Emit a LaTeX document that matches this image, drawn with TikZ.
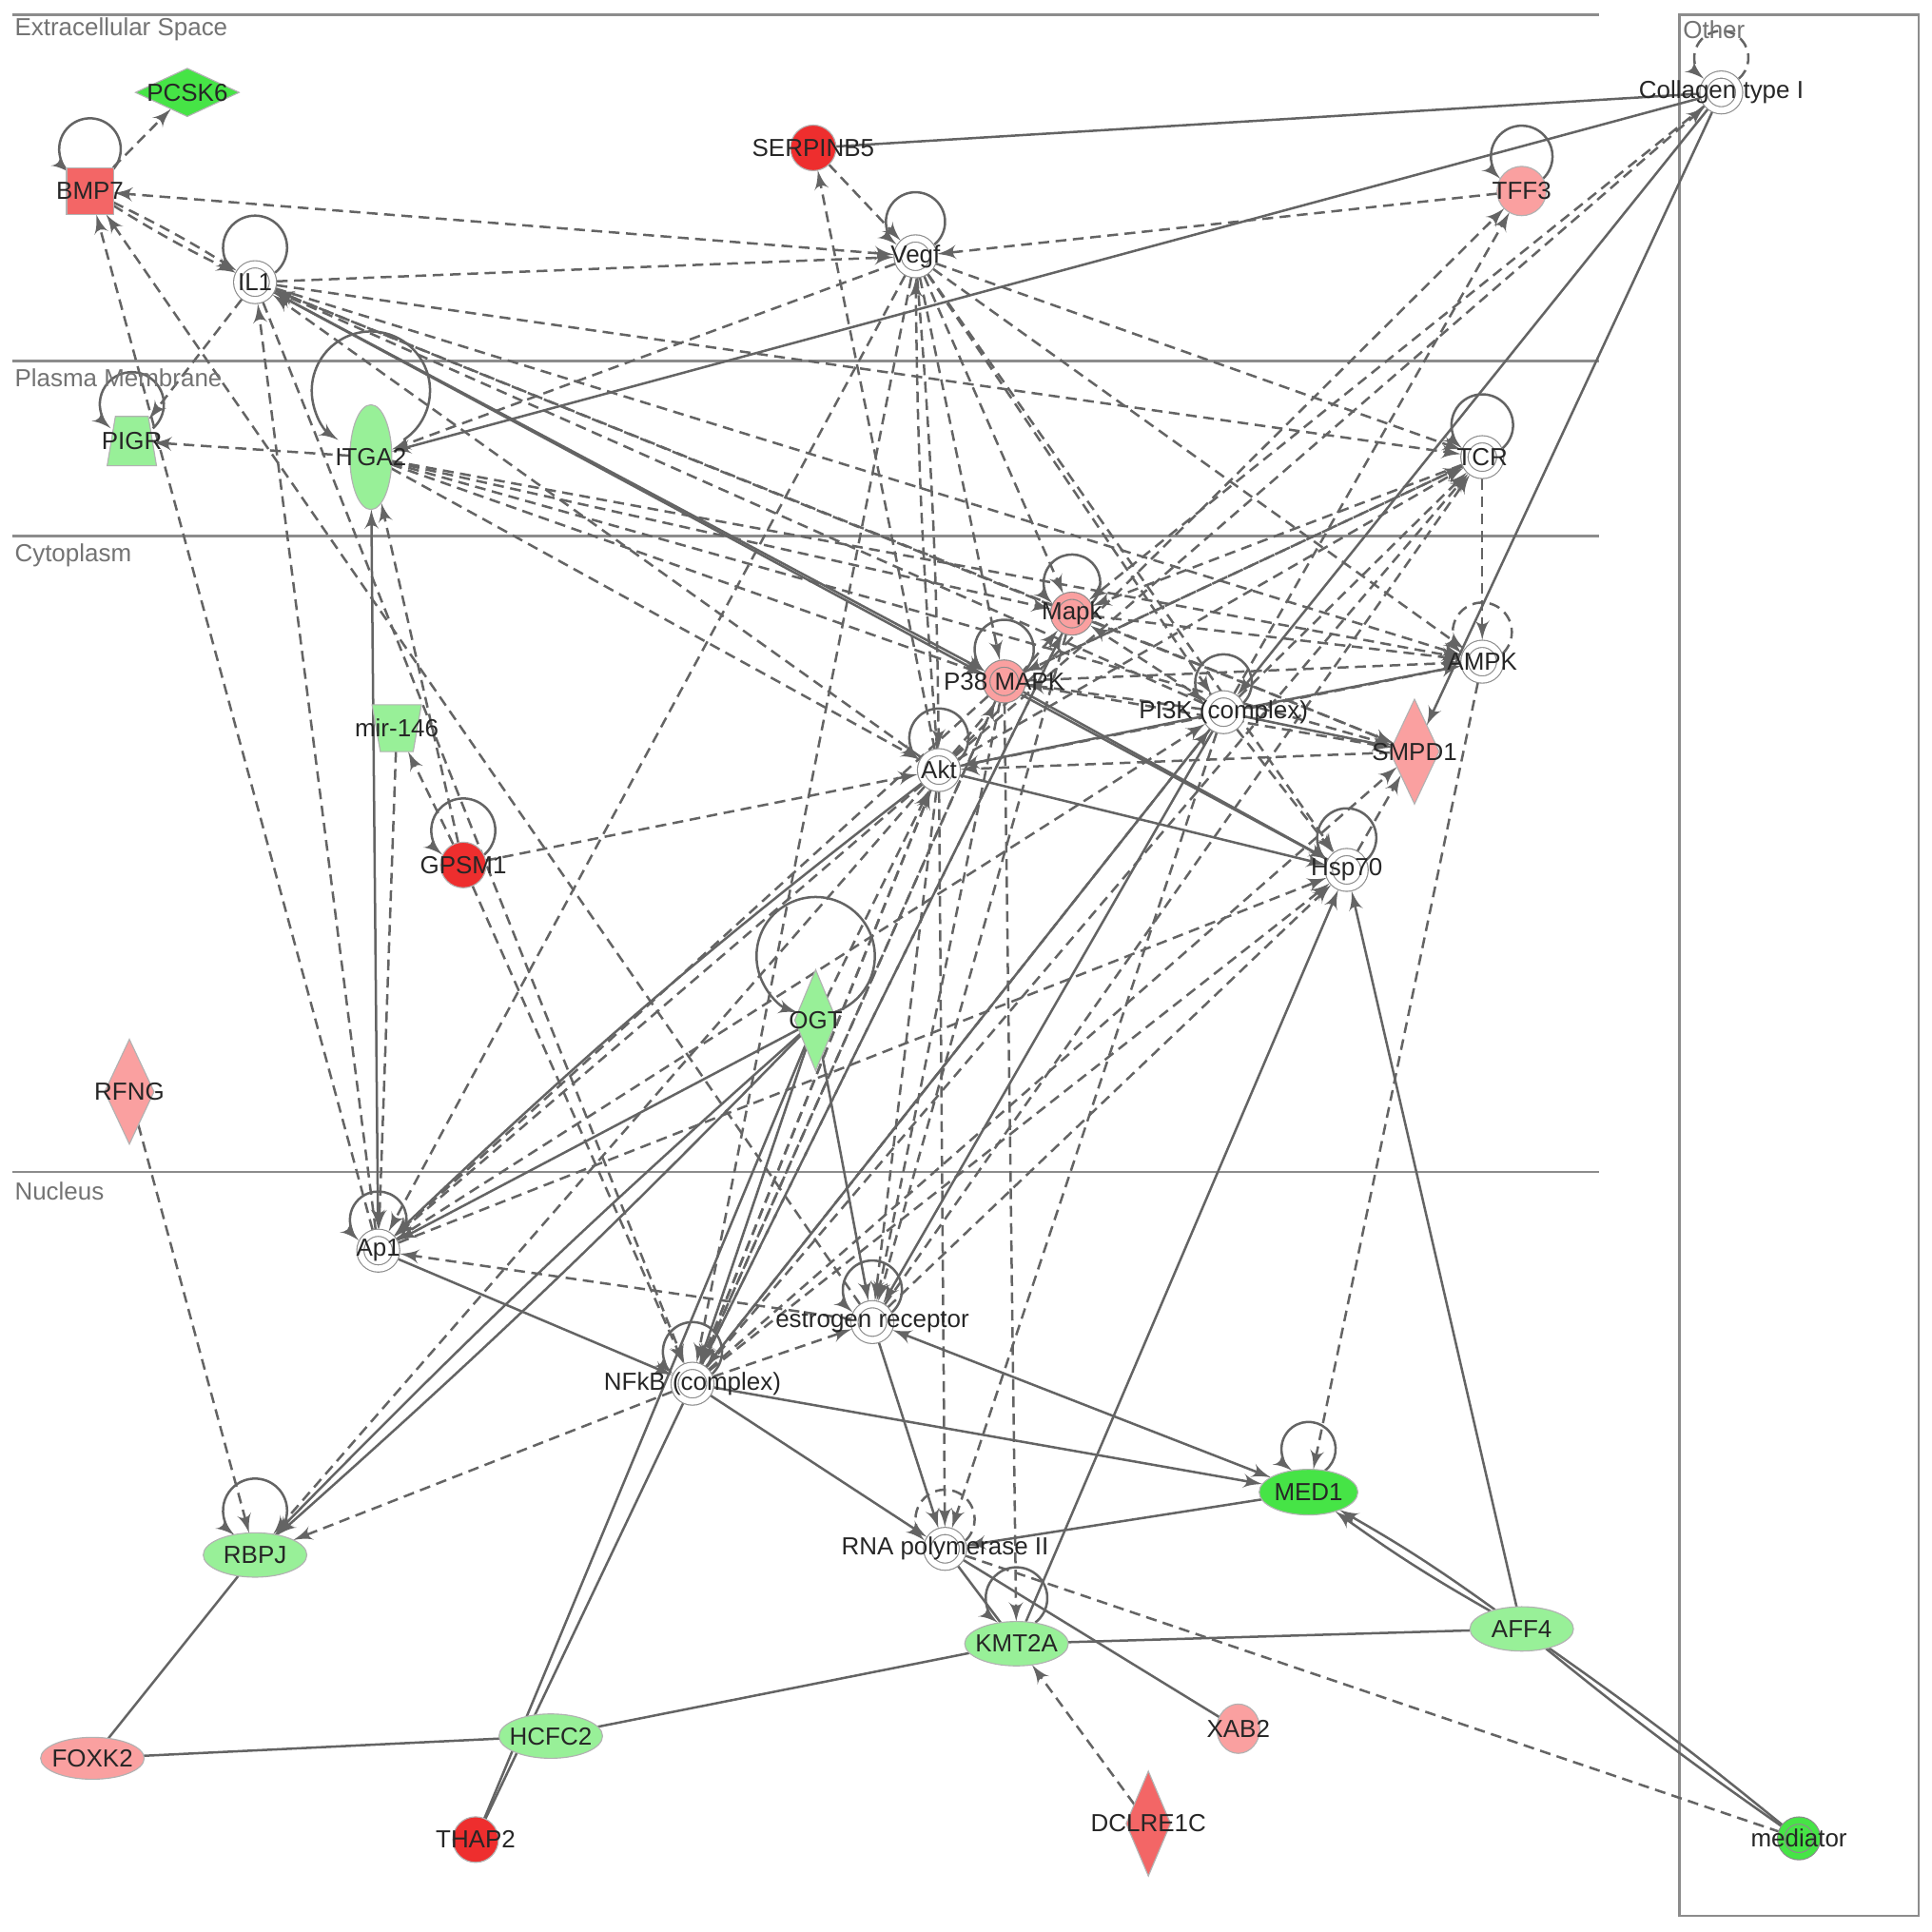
\documentclass[tikz,border=0pt]{standalone}
\usepackage{fontspec}
\setmainfont{Liberation Sans}
\usetikzlibrary{arrows,shapes.geometric,calc,backgrounds}

\definecolor{edgeGray}{RGB}{100,100,100}
\definecolor{redDark}{RGB}{238,46,46}
\definecolor{redMid}{RGB}{243,102,102}
\definecolor{pinkGene}{RGB}{250,160,160}
\definecolor{greenBright}{RGB}{70,228,70}
\definecolor{greenLight}{RGB}{152,240,152}

\begin{document}
\begin{tikzpicture}[x=0.01cm, y=-0.01cm,
    every node/.style={font=\fontsize{5.7}{7}\selectfont, text=black!85, inner sep=0pt, outer sep=0pt},
    geneShape/.style={draw=black!30, line width=0.25pt},
    complexNode/.style={circle, draw=black!45, line width=0.25pt, double=white, double distance=1.4pt, fill=white, minimum size=0.29cm, outer sep=0.9pt},
    pinkComplex/.style={complexNode, fill=pinkGene, double=pinkGene},
    greenComplex/.style={complexNode, fill=greenBright, double=greenBright},
    redDot/.style={geneShape, circle, fill=redDark, minimum size=0.37cm},
    pinkDot/.style={geneShape, circle, fill=pinkGene, minimum size=0.4cm},
    redSquare/.style={geneShape, rectangle, fill=redMid, minimum size=0.38cm},
    greenOval/.style={geneShape, ellipse, fill=greenLight, minimum width=0.84cm, minimum height=0.36cm},
    greenOvalBright/.style={geneShape, ellipse, fill=greenBright, minimum width=0.8cm, minimum height=0.37cm},
    pinkOval/.style={geneShape, ellipse, fill=pinkGene, minimum width=0.84cm, minimum height=0.34cm},
    pinkOvalSmall/.style={geneShape, ellipse, fill=pinkGene, minimum width=0.35cm, minimum height=0.4cm},
    greenTall/.style={geneShape, ellipse, fill=greenLight, minimum width=0.34cm, minimum height=0.85cm},
    pinkDiamond/.style={geneShape, diamond, fill=pinkGene, minimum width=0.4cm, minimum height=0.85cm},
    redDiamond/.style={geneShape, diamond, fill=redMid, minimum width=0.36cm, minimum height=0.85cm},
    greenDiamond/.style={geneShape, diamond, fill=greenLight, minimum width=0.34cm, minimum height=0.82cm},
    greenDiamondWide/.style={geneShape, diamond, fill=greenBright, minimum width=0.84cm, minimum height=0.39cm},
    greenTrap/.style={geneShape, trapezium, trapezium angle=76, trapezium stretches=true, inner sep=0.5pt, fill=greenLight, minimum width=0.4cm, minimum height=0.4cm},
    greenTrapInv/.style={greenTrap, shape border rotate=180, minimum height=0.38cm},
    compLine/.style={draw=black!45, line width=0.5pt},
    compLabel/.style={anchor=west, text=black!55},
    dashArrow/.style={draw=edgeGray, line width=0.55pt, dash pattern=on 2.5pt off 1.5pt, -latex'},
    dashBoth/.style={dashArrow, latex'-latex'},
    dashLine/.style={draw=edgeGray, line width=0.55pt, dash pattern=on 2.5pt off 1.5pt},
    lineArrow/.style={draw=edgeGray, line width=0.55pt, -latex'},
    lineBoth/.style={lineArrow, latex'-latex'},
    plainLine/.style={draw=edgeGray, line width=0.55pt},
    loopLine/.style={lineArrow},
    loopDash/.style={dashArrow}
  ]
  \useasboundingbox (0,0) rectangle (1568,1568);

  % compartments
  \node[compLabel] (lblExtra) at (12,24) {Extracellular Space};
  \node[compLabel] (lblMembrane) at (12,307) {Plasma Membrane};
  \node[compLabel] (lblCyto) at (12,451) {Cytoplasm};
  \node[compLabel] (lblNucleus) at (12,967) {Nucleus};
  \node[compLabel] (lblOther) at (1366,24) {Other};

  % molecules
  \node[greenDiamondWide, label=center:PCSK6] (PCSK6) at (152,75) {};
  \node[redSquare, label=center:BMP7] (BMP7) at (73,155) {};
  \node[redDot, label=center:SERPINB5] (SERPINB5) at (660,120) {};
  \node[complexNode, label=center:Vegf] (Vegf) at (743,208) {};
  \node[complexNode, label=center:IL1] (IL1) at (207,229) {};
  \node[complexNode, label=center:{Collagen type I}] (Collagen) at (1397,75) {};
  \node[pinkDot, label=center:TFF3] (TFF3) at (1235,155) {};
  \node[greenTrap, label=center:PIGR] (PIGR) at (107,358) {};
  \node[greenTall, label=center:ITGA2] (ITGA2) at (301,371) {};
  \node[complexNode, label=center:TCR] (TCR) at (1203,371) {};
  \node[pinkComplex, label=center:Mapk] (Mapk) at (870,498) {};
  \node[pinkComplex, label=center:{P38 MAPK}] (P38) at (815,553) {};
  \node[complexNode, label=center:AMPK] (AMPK) at (1203,537) {};
  \node[complexNode, label=center:{PI3K (complex)}] (PI3K) at (993,578) {};
  \node[pinkDiamond, label=center:SMPD1] (SMPD1) at (1148,610) {};
  \node[greenTrapInv, label=center:mir-146] (mir146) at (322,591) {};
  \node[complexNode, label=center:Akt] (Akt) at (762,625) {};
  \node[redDot, label=center:GPSM1] (GPSM1) at (376,702) {};
  \node[complexNode, label=center:Hsp70] (Hsp70) at (1093,706) {};
  \node[greenDiamond, label=center:OGT] (OGT) at (662,828) {};
  \node[pinkDiamond, label=center:RFNG] (RFNG) at (105,886) {};
  \node[complexNode, label=center:Ap1] (Ap1) at (307,1015) {};
  \node[complexNode, label=center:{estrogen receptor}] (ER) at (708,1073) {};
  \node[complexNode, label=center:{NFkB (complex)}] (NFkB) at (562,1123) {};
  \node[greenOvalBright, label=center:MED1] (MED1) at (1062,1211) {};
  \node[complexNode, label=center:{RNA polymerase II}] (RNApol) at (767,1257) {};
  \node[greenOval, label=center:RBPJ] (RBPJ) at (207,1262) {};
  \node[greenOval, label=center:KMT2A] (KMT2A) at (825,1334) {};
  \node[greenOval, label=center:AFF4] (AFF4) at (1235,1322) {};
  \node[pinkOval, label=center:FOXK2] (FOXK2) at (75,1427) {};
  \node[greenOval, label=center:HCFC2] (HCFC2) at (447,1409) {};
  \node[pinkOvalSmall, label=center:XAB2] (XAB2) at (1005,1403) {};
  \node[redDot, label=center:THAP2] (THAP2) at (386,1493) {};
  \node[redDiamond, label=center:DCLRE1C] (DCLRE1C) at (932,1480) {};
  \node[greenComplex, label=center:mediator] (mediator) at (1460,1492) {};

  \begin{scope}[on background layer]
    \draw[compLine] (10,12) -- (1298,12);
    \draw[compLine] (10,293) -- (1298,293);
    \draw[compLine] (10,435) -- (1298,435);
    \draw[compLine] (10,951) -- (1298,951);
    \draw[compLine] (1363,12) rectangle (1557,1555);

    % dashed relations
    \foreach \a/\b in {BMP7/PCSK6, IL1/Vegf, IL1/PIGR, Ap1/BMP7, ER/BMP7, SERPINB5/Vegf,
        Akt/SERPINB5, TFF3/Vegf, Vegf/ITGA2, Vegf/Ap1, Vegf/NFkB, Vegf/P38, Vegf/Mapk,
        Vegf/PI3K, Vegf/AMPK, Vegf/TCR, Vegf/Hsp70, Akt/TFF3, PI3K/TFF3, Collagen/Mapk,
        Akt/Collagen, Mapk/IL1, Akt/IL1, IL1/AMPK, IL1/TCR, PI3K/IL1, IL1/SMPD1, IL1/NFkB,
        Ap1/IL1, GPSM1/NFkB, GPSM1/Akt, GPSM1/mir146, GPSM1/ITGA2, mir146/Ap1, Akt/TCR,
        NFkB/TCR, P38/TCR, PI3K/TCR, ER/TCR, TCR/Mapk, TCR/AMPK, TCR/P38, ITGA2/PIGR,
        ITGA2/Mapk, ITGA2/P38, ITGA2/AMPK, ITGA2/Akt, ITGA2/SMPD1, Mapk/AMPK, PI3K/Mapk,
        Mapk/SMPD1, Mapk/NFkB, Mapk/ER, Akt/Mapk, NFkB/Mapk, P38/AMPK, P38/SMPD1, P38/Ap1,
        P38/NFkB, P38/ER, P38/KMT2A, PI3K/P38, NFkB/P38, PI3K/Hsp70, PI3K/RNApol,
        NFkB/PI3K, Akt/AMPK, AMPK/MED1, SMPD1/Akt, Hsp70/SMPD1, NFkB/SMPD1, Akt/NFkB,
        Akt/ER, Akt/RBPJ, Akt/RNApol, OGT/Akt, NFkB/Akt, NFkB/Hsp70, Ap1/Hsp70, ER/Hsp70,
        ER/Ap1, NFkB/ER, NFkB/RBPJ, RFNG/RBPJ, DCLRE1C/KMT2A, Akt/Ap1, Ap1/PI3K}
      \draw[dashArrow] (\a) -- (\b);
    \draw[dashArrow] (BMP7) to[bend left=3] (IL1);
    \draw[dashArrow] (BMP7) to[bend right=3] (IL1);
    \draw[dashBoth] (BMP7) -- (Vegf);
    \draw[dashArrow] (Vegf) to[bend left=2] (Akt);
    \draw[dashArrow] (Akt) to[bend left=2] (Vegf);
    \draw[dashLine] (RNApol) -- (mediator);

    % solid relations
    \foreach \a/\b in {Collagen/ITGA2, Collagen/SMPD1, Collagen/PI3K, IL1/P38, Hsp70/IL1,
        P38/Hsp70, Akt/Hsp70, PI3K/Akt, PI3K/AMPK, PI3K/SMPD1, OGT/Ap1, OGT/NFkB,
        OGT/ER, PI3K/ER, PI3K/NFkB, Ap1/NFkB, NFkB/MED1, NFkB/RNApol, ER/RNApol,
        MED1/RNApol, KMT2A/Hsp70, AFF4/Hsp70}
      \draw[lineArrow] (\a) -- (\b);
    \draw[lineArrow] (Akt) to[bend right=3] (Ap1);
    \draw[lineArrow] (OGT) to[bend left=2] (RBPJ);
    \draw[lineArrow] (OGT) to[bend right=2] (RBPJ);
    \draw[lineArrow] (AFF4) to[bend left=3] (MED1);
    \draw[lineArrow] (AFF4) to[bend right=3] (MED1);
    \draw[lineBoth] (ER) -- (MED1);
    \draw[lineBoth] (Ap1) -- (ITGA2);
    \foreach \a/\b in {SERPINB5/Collagen, RNApol/KMT2A, RNApol/XAB2, KMT2A/HCFC2,
        KMT2A/AFF4, HCFC2/FOXK2, FOXK2/RBPJ, THAP2/NFkB, THAP2/OGT}
      \draw[plainLine] (\a) -- (\b);
    \draw[plainLine] (AFF4) to[bend left=2] (mediator);
    \draw[plainLine] (AFF4) to[bend right=2] (mediator);

    % self loops: node/radius/lift/end distance/style
    \foreach \n/\r/\d/\rn/\s in {BMP7/25/34/22/loopLine, IL1/26/28/18/loopLine,
        PIGR/26/30/20/loopLine, ITGA2/48/54/30/loopLine, TFF3/25/28/20/loopLine,
        Vegf/24/28/18/loopLine, TCR/25/26/18/loopLine, Collagen/22/28/18/loopDash,
        Mapk/23/25/18/loopLine, P38/24/26/18/loopLine, AMPK/24/24/18/loopDash,
        PI3K/23/24/18/loopLine, Akt/24/26/18/loopLine, GPSM1/26/28/19/loopLine,
        Hsp70/24/26/18/loopLine, OGT/48/52/16/loopLine, Ap1/23/25/18/loopLine,
        ER/24/26/18/loopLine, NFkB/24/26/18/loopLine, MED1/22/35/22/loopLine,
        RNApol/24/24/18/loopDash, RBPJ/26/36/23/loopLine, KMT2A/25/37/23/loopLine}{
      \pgfmathsetmacro{\th}{acos((\r*\r+\d*\d-\rn*\rn)/(2*\r*\d))}
      \draw[\s] ($(\n)+({\r*sin(\th)},{-\d+\r*cos(\th)})$) arc[start angle=90-\th, end angle=-270+\th, radius=\r];
    }
  \end{scope}
\end{tikzpicture}
\end{document}
